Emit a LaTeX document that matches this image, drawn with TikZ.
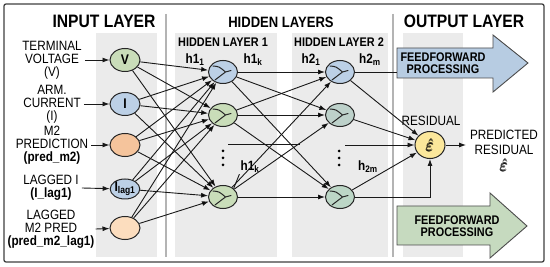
\documentclass[tikz,border=0pt]{standalone}
\usepackage{amsmath}
\usepackage{fontspec}
\setmainfont[FakeStretch=0.87]{Liberation Sans}
\usetikzlibrary{arrows.meta,shapes.geometric}

\definecolor{panelgray}{HTML}{EBEBEB}
\definecolor{sepgray}{HTML}{B4B4B4}
\definecolor{ngreen}{HTML}{C9DDB9}
\definecolor{nblue}{HTML}{BCD0E6}
\definecolor{norange}{HTML}{F5C49C}
\definecolor{npeach}{HTML}{FCDDBE}
\definecolor{nteal}{HTML}{BDD1CA}
\definecolor{nteal2}{HTML}{BCD6C6}
\definecolor{nyellow}{HTML}{FBE79B}
\definecolor{ffblue}{HTML}{B7CCE2}
\definecolor{ffgreen}{HTML}{C6DABF}

\tikzset{
  panel/.style={fill=panelgray,draw=none},
  sepline/.style={draw=sepgray,line width=1.3pt},
  frame/.style={draw=black!75,line width=1.3pt,rounded corners=2pt},
  bigtitle/.style={font=\bfseries\fontsize{18}{18}\selectfont,inner sep=0pt},
  midtitle/.style={font=\bfseries\fontsize{15}{15}\selectfont,inner sep=0pt},
  subtitle/.style={font=\bfseries\fontsize{12.5}{12.5}\selectfont,inner sep=0pt},
  inlabel/.style={align=center,font=\fontsize{13.5}{13}\selectfont,inner sep=0pt},
  hlabel/.style={font=\bfseries\fontsize{13.5}{13.5}\selectfont,inner sep=1pt},
  unit/.style={ellipse,draw=black!85,line width=1pt,minimum width=30pt,
    minimum height=23pt,inner sep=0pt,font=\bfseries\fontsize{14}{14}\selectfont},
  hidunit/.style={unit,minimum width=29pt,minimum height=23pt,
    path picture={\begin{scope}[shift={(path picture bounding box.center)}]
      \draw[line width=1pt,line cap=round,line join=round]
        (-10pt,6pt) .. controls (-4pt,5.5pt) .. (2.5pt,0pt) -- (-8pt,-8pt)
        (2.5pt,0pt) -- (8pt,1.5pt);
    \end{scope}}},
  wire/.style={draw=black!90,line width=0.9pt,-{Latex[length=7pt,width=5pt]}},
  link/.style={draw=black!90,line width=0.9pt},
  ffarrow/.style={draw=black!70,line width=0.9pt,line join=miter},
  fftext/.style={align=center,font=\bfseries\fontsize{12.5}{12}\selectfont,inner sep=0pt},
}

\begin{document}
\begin{tikzpicture}[x=1pt,y=-1pt]
\useasboundingbox (0,0) rectangle (550,267);
% panels and separators
\fill[white] (0,0) rectangle (550,267);
\path[panel] (96,33) rectangle (157,257);
\path[panel] (175,33) rectangle (277,257);
\path[panel] (292,33) rectangle (388,257);
\path[panel] (403,33) rectangle (463,257);
\draw[sepline] (166,14) -- (166,257);
\draw[sepline] (393,14) -- (393,257);
\draw[frame] (4,4) rectangle (544,262);

% titles
\node[bigtitle] (tin) at (104,21) {INPUT LAYER};
\node[midtitle] (thid) at (281,22) {HIDDEN LAYERS};
\node[bigtitle] (tout) at (464,21) {OUTPUT LAYER};
\node[subtitle] (th1) at (223,42) {HIDDEN LAYER 1};
\node[subtitle] (th2) at (339,42) {HIDDEN LAYER 2};

% block arrows
\draw[ffarrow,fill=ffblue] (397,48) -- (493,48) -- (493,35) -- (528,63)
  -- (493,92) -- (493,78) -- (397,78) -- cycle;
\node[fftext] (ffa) at (443,63) {FEEDFORWARD\\PROCESSING};
\draw[ffarrow,fill=ffgreen] (397,206) -- (490,206) -- (490,193) -- (527,226)
  -- (490,258) -- (490,245) -- (397,245) -- cycle;
\node[fftext] (ffb) at (457,226) {FEEDFORWARD\\PROCESSING};

% input layer
\node[unit,fill=ngreen] (inV) at (125,60) {V};
\node[unit,fill=nblue] (inI) at (125,104) {I};
\node[unit,fill=norange] (inP) at (125,145) {};
\node[unit,fill=nblue,minimum width=29pt,minimum height=20pt] (inIl) at (125,189) {I\textsubscript{lag1}};
\node[unit,fill=npeach] (inPl) at (125,228) {};

\node[inlabel] (labV) at (52,60) {TERMINAL\\VOLTAGE\\(V)};
\node[inlabel] (labI) at (52,104) {ARM.\\CURRENT\\(I)};
\node[inlabel] (labP) at (52,145) {M2\\PREDICTION\\\textbf{(pred\_m2)}};
\node[inlabel] (labIl) at (51,188) {LAGGED I\\\textbf{(I\_lag1)}};
\node[inlabel] (labPl) at (51,229) {LAGGED\\M2 PRED\\\textbf{(pred\_m2\_lag1)}};

\draw[wire] ([xshift=3pt]labV.east) -- (inV);
\draw[wire] ([xshift=3pt]labI.east) -- (inI);
\draw[wire] ([xshift=3pt]labP.east) -- (inP);
\draw[wire] ([xshift=3pt]labIl.east) -- (inIl);
\draw[wire] ([xshift=1pt]labPl.east) -- (inPl);

% hidden layers
\node[hidunit,fill=nblue] (h11) at (223,72) {};
\node[hidunit,fill=ngreen] (h12) at (223,115) {};
\node[hidunit,fill=ngreen] (h13) at (223,197) {};
\node[hidunit,fill=nblue] (h21) at (340,72) {};
\node[hidunit,fill=nteal] (h22) at (340,115) {};
\node[hidunit,fill=nteal2] (h23) at (340,197) {};

\node[hlabel] (lh11) at (195,60) {h1\textsubscript{1}};
\node[hlabel] (lh1k) at (253,60) {h1\textsubscript{k}};
\node[hlabel] (lh21) at (311,60) {h2\textsubscript{1}};
\node[hlabel] (lh2m) at (370,60) {h2\textsubscript{m}};
\node[hlabel] (lh1kb) at (250,167) {h1\textsubscript{k}};
\node[hlabel] (lh2mb) at (368,167) {h\textsubscript{2m}};
\draw[link] (h13.north east) -- (lh1kb.south west);

\fill (223,151) circle (1.5pt) (223,158) circle (1.5pt) (223,165) circle (1.5pt);
\fill (339,151) circle (1.5pt) (339,158) circle (1.5pt) (339,165) circle (1.5pt);

\draw[wire] (inV) edge (h11) edge (h12) edge (h13);
\draw[wire] (inI) edge (h11) edge (h12) edge (h13);
\draw[wire] (inP) edge (h11) edge (h12) edge (h13);
\draw[wire] (inIl) edge (h11) edge (h12) edge (h13);
\draw[wire] (inPl) edge (h11) edge (h12) edge (h13);

\draw[wire] (h11) edge (h21) edge (h22) edge (h23);
\draw[wire] (h12) edge (h21) edge (h22) edge (h23);
\draw[wire] (h13) edge (h21) edge (h22) edge (h23);
\coordinate (dh1a) at (228,144);
\coordinate (dh1b) at (300,144);
\draw[link] (dh1a) -- (dh1b);

% output layer
\node[unit,fill=nyellow,minimum width=30pt,minimum height=27pt,
  font=\fontsize{17}{17}\selectfont] (res) at (430,145) {$\pmb{\hat{\varepsilon}}$};
\node[inlabel] (lres) at (431,121) {RESIDUAL};
\coordinate (dh2) at (345,145);
\coordinate (ffin) at (397,72);
\coordinate (rout) at (466,145);
\draw[link] (h21.east) -- (ffin);
\draw[wire] (h21) -- (res);
\draw[wire] (h22) -- (res);
\draw[wire] (dh2) -- (res);
\draw[wire] (h23) -- (res);
\draw[wire] (h23.east) -| (res.south);
\draw[wire] (res) -- (rout);
\node[inlabel,font=\fontsize{13.5}{15}\selectfont] (lpred) at (504,142) {PREDICTED\\RESIDUAL};
\node[inlabel,font=\fontsize{16}{16}\selectfont] (lpredsym) at (504,165) {$\pmb{\hat{\varepsilon}}$};
\end{tikzpicture}
\end{document}
